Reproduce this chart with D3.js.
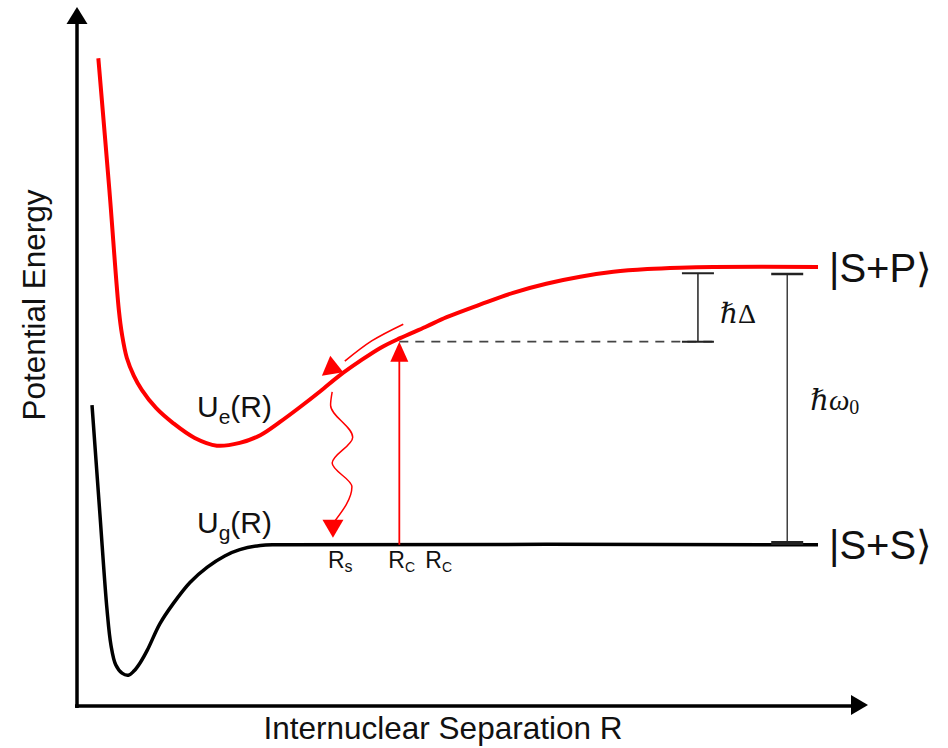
<!DOCTYPE html>
<html>
<head>
<meta charset="utf-8">
<script src="https://cdn.jsdelivr.net/npm/d3@7"></script>
<style>
  html, body { margin: 0; padding: 0; background: #fff; }
  svg { display: block; }
  text { font-family: 'Liberation Sans', Arial, sans-serif; fill: #111; }
  .math { font-family: 'Liberation Serif', 'DejaVu Serif', serif; }
</style>
</head>
<body>
<div id="chart"></div>
<script>
// potential curves, R and U in arbitrary units (0..10 on both axes)
const excitedR = [0.27, 0.41, 0.53, 0.57, 0.63, 0.72, 0.82, 1.00, 1.22, 1.49, 1.77, 2.06, 2.32, 2.57, 2.82, 3.08, 3.33, 3.58, 3.84, 4.09, 4.41, 4.68, 5.10, 5.52, 5.94, 6.37, 6.79, 7.22, 7.63, 8.05, 9.38];
const excitedU = [9.28, 7.39, 5.67, 5.32, 4.99, 4.73, 4.53, 4.27, 4.05, 3.84, 3.73, 3.77, 3.88, 4.07, 4.28, 4.51, 4.74, 4.94, 5.13, 5.27, 5.43, 5.57, 5.75, 5.92, 6.05, 6.15, 6.22, 6.26, 6.28, 6.29, 6.29];

const groundR = [0.19, 0.29, 0.38, 0.43, 0.49, 0.57, 0.65, 0.72, 0.80, 0.89, 1.05, 1.22, 1.43, 1.65, 1.87, 2.06, 2.32, 2.57, 9.38];
const groundU = [4.31, 2.75, 1.38, 0.87, 0.59, 0.47, 0.44, 0.50, 0.62, 0.80, 1.18, 1.47, 1.77, 1.99, 2.15, 2.24, 2.30, 2.31, 2.31];

// special separations / energies
const Rs = 3.24, Rc = 4.08;
const Uc = 5.22;                 // excited curve energy at Rc
const UlimE = 6.29, UlimG = 2.31; // asymptotes
const deltaR = 7.86, omegaR = 8.99, dashEndR = 8.05;

// wavy spontaneous-emission arrow (R, U)
const waveR = [3.23, 3.21, 3.49, 3.23, 3.48, 3.25];
const waveU = [4.50, 4.31, 3.85, 3.48, 3.14, 2.63];
const waveTipU = 2.41;

// red "sliding" arrow alongside the excited curve
const slideR = [4.13, 3.73, 3.39];
const slideU = [5.47, 5.23, 4.94];
const slideTip = [3.10, 4.73];

const width = 948, height = 748;

const x = d3.scaleLinear().domain([0, 10]).range([77, 867]);
const y = d3.scaleLinear().domain([0, 10]).range([706, 8]);

const svg = d3.select('#chart').append('svg')
    .attr('width', width)
    .attr('height', height);

// triangle arrow head from its tip, pointing along (dx, dy)
function arrowHead(tx, ty, dx, dy, len, hw) {
    const n = Math.hypot(dx, dy);
    const ux = dx / n, uy = dy / n;
    const bx = tx - ux * len, by = ty - uy * len;
    return `M${tx},${ty}L${bx - uy * hw},${by + ux * hw}L${bx + uy * hw},${by - ux * hw}Z`;
}

// axes
svg.append('line')
    .attr('x1', x(0)).attr('y1', y(0) + 2)
    .attr('x2', x(0)).attr('y2', y(10) + 12)
    .attr('stroke', '#000').attr('stroke-width', 3.5);
svg.append('path')
    .attr('d', arrowHead(x(0), y(10) - 1, 0, -1, 17, 10.5))
    .attr('fill', '#000');
svg.append('line')
    .attr('x1', x(0) - 2).attr('y1', y(0))
    .attr('x2', x(10) - 10).attr('y2', y(0))
    .attr('stroke', '#000').attr('stroke-width', 3.5);
svg.append('path')
    .attr('d', arrowHead(x(10) + 1, y(0) - 1, 1, 0, 17, 10))
    .attr('fill', '#000');

const line = d3.line()
    .x(d => x(d[0]))
    .y(d => y(d[1]))
    .curve(d3.curveCatmullRom.alpha(0.5));

// ground state curve
svg.append('path')
    .attr('d', line(d3.zip(groundR, groundU)))
    .attr('fill', 'none')
    .attr('stroke', '#000')
    .attr('stroke-width', 3.5);

// excited state curve
svg.append('path')
    .attr('d', line(d3.zip(excitedR, excitedU)))
    .attr('fill', 'none')
    .attr('stroke', '#ff0000')
    .attr('stroke-width', 4);

// dashed level at Rc
svg.append('line')
    .attr('x1', x(Rc)).attr('y1', y(Uc))
    .attr('x2', x(dashEndR)).attr('y2', y(Uc))
    .attr('stroke', '#444').attr('stroke-width', 1.6)
    .attr('stroke-dasharray', '9,7');

// hbar Delta bracket
const gBr = svg.append('g').attr('stroke', '#222');
gBr.append('line')
    .attr('x1', x(deltaR)).attr('y1', y(6.20))
    .attr('x2', x(deltaR)).attr('y2', y(Uc))
    .attr('stroke-width', 1.5);
[6.20, Uc].forEach(u => {
    gBr.append('line')
        .attr('x1', x(deltaR) - 16).attr('x2', x(deltaR) + 16)
        .attr('y1', y(u)).attr('y2', y(u))
        .attr('stroke-width', 2);
});

// hbar omega0 bracket
gBr.append('line')
    .attr('x1', x(omegaR)).attr('y1', y(6.19))
    .attr('x2', x(omegaR)).attr('y2', y(2.35))
    .attr('stroke-width', 1.3);
gBr.append('line')
    .attr('x1', x(omegaR) - 16).attr('x2', x(omegaR) + 16)
    .attr('y1', y(6.19)).attr('y2', y(6.19))
    .attr('stroke-width', 2.5);
gBr.append('line')
    .attr('x1', x(omegaR) - 16).attr('x2', x(omegaR) + 16)
    .attr('y1', y(2.35) + 1).attr('y2', y(2.35) + 1)
    .attr('stroke-width', 4);

// excitation arrow at Rc
svg.append('line')
    .attr('x1', x(Rc)).attr('y1', y(UlimG))
    .attr('x2', x(Rc)).attr('y2', y(Uc) + 16)
    .attr('stroke', '#ff0000').attr('stroke-width', 1.8);
svg.append('path')
    .attr('d', arrowHead(x(Rc), y(Uc), 0, -1, 20, 9))
    .attr('fill', '#ff0000');

// wavy emission arrow at Rs
svg.append('path')
    .attr('d', d3.line()
        .x(d => x(d[0]))
        .y(d => y(d[1]))
        .curve(d3.curveMonotoneY)(d3.zip(waveR, waveU)))
    .attr('fill', 'none')
    .attr('stroke', '#ff0000')
    .attr('stroke-width', 1.5);
svg.append('path')
    .attr('d', arrowHead(x(Rs), y(waveTipU), 0, 1, 18, 10.5))
    .attr('fill', '#ff0000');

// sliding arrow along the excited curve
svg.append('path')
    .attr('d', d3.line()
        .x(d => x(d[0]))
        .y(d => y(d[1]))
        .curve(d3.curveCatmullRom)(d3.zip(slideR, slideU)))
    .attr('fill', 'none')
    .attr('stroke', '#ff0000')
    .attr('stroke-width', 1.6);
svg.append('path')
    .attr('d', arrowHead(x(slideTip[0]), y(slideTip[1]), -14.5, 11.5, 19, 10.5))
    .attr('fill', '#ff0000');

// axis titles
svg.append('text')
    .attr('transform', `translate(45,${305}) rotate(-90)`)
    .attr('text-anchor', 'middle')
    .style('font-size', '31.5px')
    .text('Potential Energy');
svg.append('text')
    .attr('x', 443).attr('y', 739)
    .attr('text-anchor', 'middle')
    .style('font-size', '31.5px')
    .text('Internuclear Separation R');

// curve labels
function subLabel(px, py, main, sub, rest, size, subSize, dy) {
    const t = svg.append('text').attr('x', px).attr('y', py).style('font-size', size + 'px');
    t.append('tspan').text(main);
    t.append('tspan').attr('dy', dy).style('font-size', subSize + 'px').text(sub);
    if (rest) t.append('tspan').attr('dy', -dy).text(rest);
    return t;
}
subLabel(197, 417, 'U', 'e', '(R)', 30, 21, 7);
subLabel(197, 533, 'U', 'g', '(R)', 30, 21, 7);
subLabel(x(Rs) - 5, 568, 'R', 's', null, 23, 16, 4);
subLabel(x(Rc) - 11, 568, 'R', 'C', null, 23, 14, 4);
subLabel(x(Rc) + 26, 568, 'R', 'C', null, 23, 14, 4);

// math labels
const dl = svg.append('text').attr('class', 'math')
    .attr('x', x(deltaR) + 22).attr('y', 323).style('font-size', '28px');
dl.append('tspan').style('font-style', 'italic').text('\u210F');
dl.append('tspan').text('\u0394');

const wl = svg.append('text').attr('class', 'math')
    .attr('x', x(omegaR) + 23).attr('y', 410).style('font-size', '29px');
wl.append('tspan').style('font-style', 'italic').text('\u210F\u03C9');
wl.append('tspan').attr('dy', 4).style('font-size', '20px').text('0');

// asymptote state labels
svg.append('text')
    .attr('x', 829).attr('y', y(UlimE) + 15)
    .style('font-size', '40px')
    .text('|S+P\u27E9');
svg.append('text')
    .attr('x', 829).attr('y', y(UlimG) + 14)
    .style('font-size', '40px')
    .text('|S+S\u27E9');
</script>
</body>
</html>
